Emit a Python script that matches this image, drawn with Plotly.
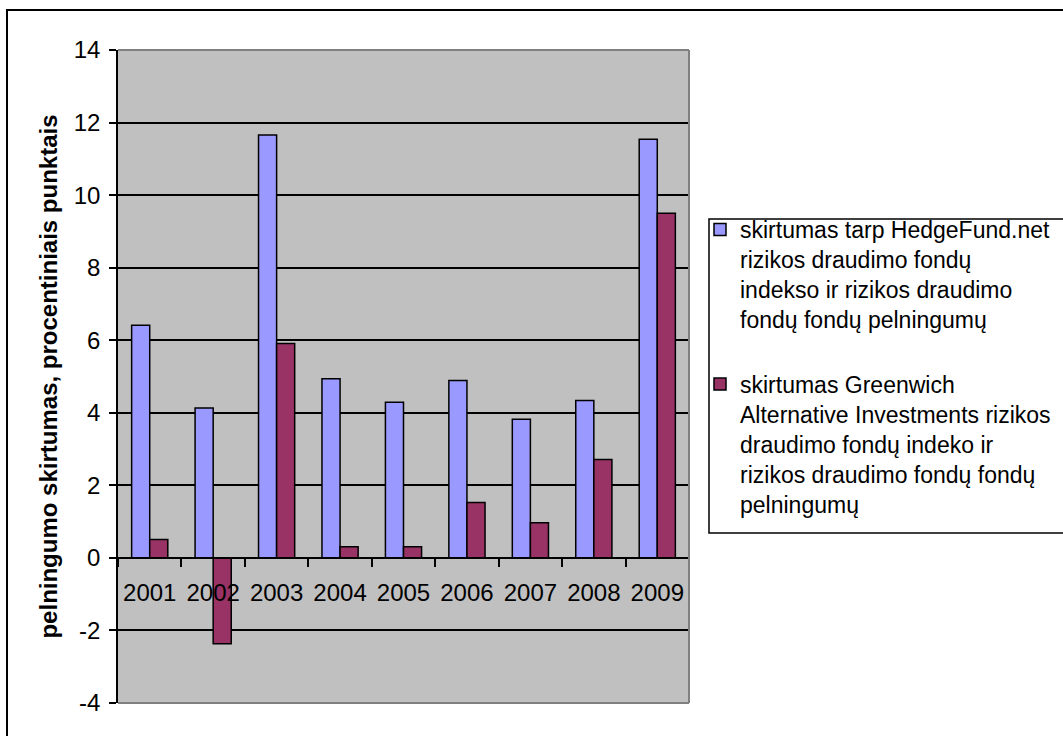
import plotly.graph_objects as go

years = ["2001", "2002", "2003", "2004", "2005", "2006", "2007", "2008", "2009"]
hedgefund_net = [6.41, 4.13, 11.66, 4.94, 4.29, 4.89, 3.82, 4.34, 11.54]
greenwich = [0.51, -2.37, 5.91, 0.31, 0.31, 1.53, 0.97, 2.71, 9.50]
y_ticks = [-4, -2, 0, 2, 4, 6, 8, 10, 12, 14]
y_ticktext = ["-4", "-2", "0", "2", "4", "6", "8", "10", "12", "14"]
name1 = "skirtumas tarp HedgeFund.net<br>rizikos draudimo fondų<br>indekso ir rizikos draudimo<br>fondų fondų pelningumų"
name2 = "skirtumas Greenwich<br>Alternative Investments rizikos<br>draudimo fondų indeko ir<br>rizikos draudimo fondų fondų<br>pelningumų"
y_title = "pelningumo skirtumas, procentiniais punktais"

FONT = "Liberation Sans, Arial, sans-serif"
ymin, ymax = -4, 14

fig = go.Figure()
fig.add_trace(go.Bar(x=years, y=hedgefund_net, name=name1, legendgroup="a",
                     marker=dict(color="#9999FF", line=dict(color="black", width=1.5))))
fig.add_trace(go.Bar(x=years, y=greenwich, name=name2, legendgroup="b",
                     marker=dict(color="#993366", line=dict(color="black", width=1.5))))

W, H = 1063, 736
L, R, T, B = 118, 374, 50, 33
pw, ph = W - L - R, H - T - B

def px_x(x):
    return (x - L) / pw

def px_y(y):
    return (H - B - y) / ph

shapes = [
    # gray plot-area border (top, right, bottom)
    dict(type="line", xref="paper", yref="paper", x0=0, x1=1, y0=1, y1=1,
         line=dict(color="#808080", width=2), layer="above"),
    dict(type="line", xref="paper", yref="paper", x0=1, x1=1, y0=0, y1=1,
         line=dict(color="#808080", width=2), layer="above"),
    dict(type="line", xref="paper", yref="paper", x0=0, x1=1, y0=0, y1=0,
         line=dict(color="#808080", width=2), layer="above"),
    # outer chart border
    dict(type="rect", xref="paper", yref="paper", x0=px_x(7), x1=px_x(1100),
         y0=px_y(780), y1=px_y(10), line=dict(color="black", width=2), layer="above"),
    # legend box
    dict(type="rect", xref="paper", yref="paper", x0=px_x(709), x1=px_x(1100),
         y0=px_y(533), y1=px_y(219), line=dict(color="black", width=1.5), layer="above"),
]

fig.update_layout(
    width=W, height=H,
    margin=dict(l=L, r=R, t=T, b=B, autoexpand=False),
    paper_bgcolor="white",
    plot_bgcolor="#C0C0C0",
    font=dict(family=FONT, size=23, color="black"),
    barmode="group",
    bargap=0.43,
    bargroupgap=0,
    showlegend=True,
    legend=dict(x=px_x(700), y=px_y(208), xanchor="left", yanchor="top",
                borderwidth=0, bgcolor="rgba(0,0,0,0)",
                font=dict(family=FONT, size=23, color="black"),
                valign="top", tracegroupgap=32, traceorder="grouped"),
    shapes=shapes,
)

fig.update_yaxes(
    range=[ymin, ymax], tickvals=y_ticks, ticktext=y_ticktext,
    showgrid=True, gridcolor="black", gridwidth=1.5,
    zeroline=False, showline=True, linecolor="black", linewidth=1.5,
    ticks="outside", ticklen=7, tickcolor="black", tickwidth=1.5,
    ticklabelstandoff=4,
    tickfont=dict(family=FONT, size=24, color="black"),
    title=dict(text=y_title, font=dict(family=FONT, size=24, color="black", weight="bold"), standoff=9),
)
fig.update_xaxes(
    type="category", anchor="free", position=(0 - ymin) / (ymax - ymin),
    showline=True, linecolor="black", linewidth=1.5,
    showgrid=False, ticks="outside", tickson="boundaries", ticklen=8,
    tickcolor="black", tickwidth=1.5, ticklabelstandoff=14, tickangle=0,
    tickfont=dict(family=FONT, size=24, color="black"),
)

fig.write_html("out.html")
